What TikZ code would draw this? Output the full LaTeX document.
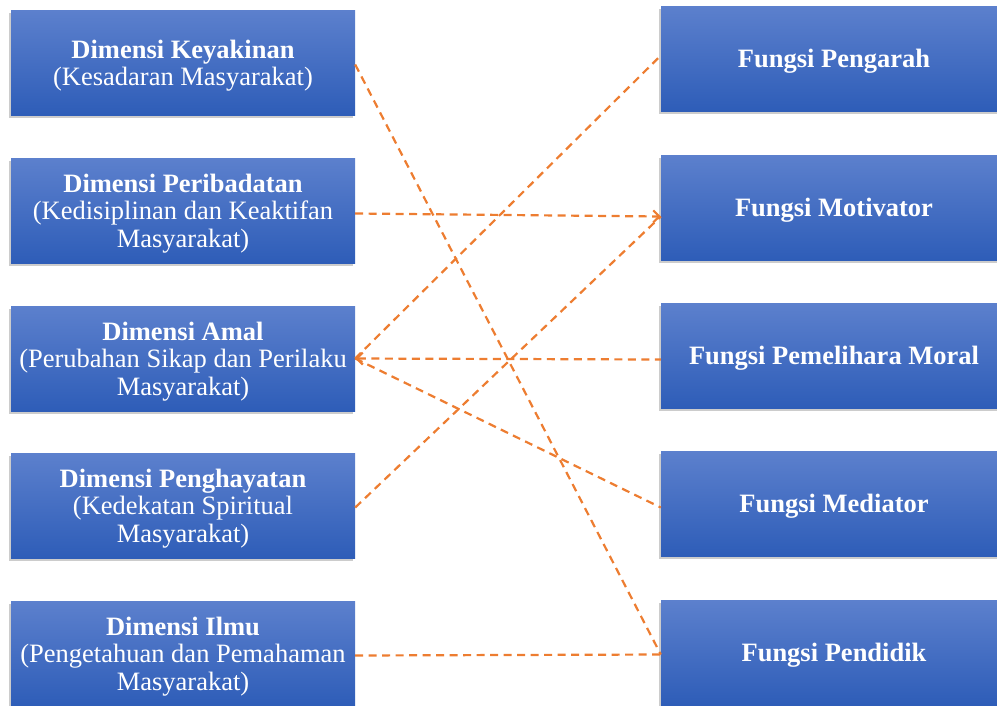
\documentclass[tikz,border=0pt]{standalone}
\usepackage{fontspec}
\setmainfont{Liberation Serif}
\usetikzlibrary{arrows.meta,shadows}
\definecolor{boxtop}{HTML}{5C80CD}
\definecolor{boxbot}{HTML}{2E5DB8}
\definecolor{linkorange}{HTML}{ED7D31}
% extra room above the first line of a box
\newcommand{\toprow}{\rule{0pt}{24.5pt}}
\tikzset{
  panel/.style={draw=none, top color=boxtop, bottom color=boxbot,
    text=white, align=center, inner sep=0pt,
    font=\fontsize{26.5}{27.5}\selectfont,
    drop shadow={shadow xshift=-2pt, shadow yshift=-3pt, opacity=0.4}},
  dimbox/.style={panel, minimum width=344pt, minimum height=105pt},
  fungbox/.style={panel, minimum width=346pt, minimum height=105pt},
  link/.style={draw=linkorange, line width=2.2pt, dash pattern=on 8pt off 5.5pt},
  linkbarb/.tip={Straight Barb[length=6pt,width=12pt]}
}
\begin{document}
\begin{tikzpicture}[x=1pt,y=-1pt]
  \useasboundingbox (0,0) rectangle (997,705);
  % dimensions (left column)
  \node[dimbox] (dimKeyakinan) at (183,62.5) {\toprow\textbf{Dimensi Keyakinan}\\(Kesadaran Masyarakat)};
  \node[dimbox] (dimPeribadatan) at (183,210.5) {\toprow\textbf{Dimensi Peribadatan}\\(Kedisiplinan dan Keaktifan\\Masyarakat)};
  \node[dimbox] (dimAmal) at (183,358.5) {\toprow\textbf{Dimensi Amal}\\(Perubahan Sikap dan Perilaku\\Masyarakat)};
  \node[dimbox] (dimPenghayatan) at (183,505.5) {\toprow\textbf{Dimensi Penghayatan}\\(Kedekatan Spiritual\\Masyarakat)};
  \node[dimbox] (dimIlmu) at (183,653.5) {\toprow\textbf{Dimensi Ilmu}\\(Pengetahuan dan Pemahaman\\Masyarakat)};
  % functions (right column)
  \node[fungbox] (fungPengarah) at (834,58.5) {\toprow\textbf{Fungsi Pengarah}};
  \node[fungbox] (fungMotivator) at (834,207.5) {\toprow\textbf{Fungsi Motivator}};
  \node[fungbox] (fungMoral) at (834,355.5) {\toprow\textbf{Fungsi Pemelihara Moral}};
  \node[fungbox] (fungMediator) at (834,503.5) {\toprow\textbf{Fungsi Mediator}};
  \node[fungbox] (fungPendidik) at (834,652.5) {\toprow\textbf{Fungsi Pendidik}};
  % dashed links
  \draw[link] ([yshift=-2pt]dimKeyakinan.east) -- ([yshift=-2pt]fungPendidik.west);
  \draw[link, -linkbarb] ([yshift=-3pt]dimPeribadatan.east) -- ([yshift=-9pt]fungMotivator.west);
  \draw[link] (dimAmal.east) -- ([yshift=3pt]fungPengarah.west);
  \draw[link, linkbarb-] (dimAmal.east) -- ([yshift=-4pt]fungMoral.west);
  \draw[link] (dimAmal.east) -- ([yshift=-4pt]fungMediator.west);
  \draw[link] ([yshift=-2pt]dimPenghayatan.east) -- ([yshift=-9pt]fungMotivator.west);
  \draw[link] ([yshift=-2pt]dimIlmu.east) -- ([yshift=-2pt]fungPendidik.west);
\end{tikzpicture}
\end{document}
